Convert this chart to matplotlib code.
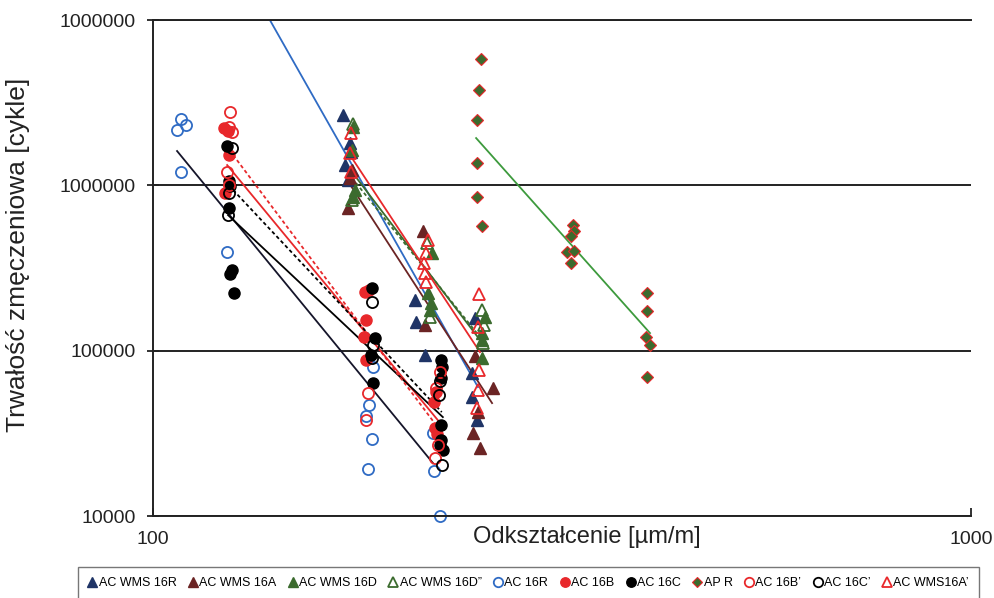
import numpy as np
import matplotlib.pyplot as plt
from matplotlib.ticker import NullLocator

plt.rcParams['font.family'] = ['Liberation Sans', 'DejaVu Sans']

# strain [um/m] vs fatigue life [cycles]
wms16r_x = [170.7, 174.1, 174.6, 171.7, 173.2, 209.0, 209.6, 215.0, 247.5, 245.5, 245.5, 248.9]
wms16r_y = [2.663e6, 1.803e6, 1.590e6, 1.327e6, 1.077e6, 2.024e5, 1.489e5, 94060, 1.575e5, 73210, 52400, 38040]

wms16a_x = [173.2, 174.1, 175.1, 213.8, 215.0, 247.5, 260.3, 249.6, 246.2, 251.0]
wms16a_y = [7.29e5, 1.107e6, 1.238e6, 5.290e5, 1.428e5, 92750, 59380, 42520, 31730, 25740]

wms16d_x = [175.6, 175.1, 176.6, 175.6, 219.3, 216.8, 218.6, 218.0, 254.5, 252.4, 252.4, 252.4]
wms16d_y = [2.253e6, 1.635e6, 9.367e5, 8.497e5, 3.894e5, 2.231e5, 1.941e5, 1.760e5, 1.597e5, 1.278e5, 1.159e5, 90200]

wms16d2_x = [175.6, 175.1, 216.2, 218.0, 252.4, 253.8, 253.1]
wms16d2_y = [2.348e6, 8.150e5, 4.476e5, 1.597e5, 1.760e5, 1.428e5, 1.112e5]

ac16r_x = [108.2, 107.0, 109.7, 108.2, 123.2, 185.7, 183.7, 182.1, 185.2, 183.2, 219.9, 220.5, 224.2]
ac16r_y = [2.518e6, 2.160e6, 2.316e6, 1.204e6, 3.949e5, 79600, 46880, 40210, 29190, 19220, 31730, 18690, 10000]

ac16b_x = [122.1, 123.5, 123.9, 122.5, 181.6, 183.7, 182.1, 181.1, 182.1, 221.7, 220.5, 221.1, 222.3]
ac16b_y = [2.221e6, 2.130e6, 1.525e6, 8.98e5, 2.262e5, 2.326e5, 1.532e5, 1.209e5, 87740, 56170, 48890, 34020, 31290]

ac16c_x = [123.2, 123.9, 124.2, 123.9, 124.9, 124.2, 125.6, 185.2, 186.8, 184.7, 185.7,
           224.8, 225.4, 224.8, 224.8, 224.8, 226.1, 224.2]
ac16c_y = [1.729e6, 1.062e6, 9.90e5, 7.29e5, 3.073e5, 2.906e5, 2.231e5, 2.391e5, 1.192e5, 94060, 63680,
           87740, 79600, 68270, 35470, 28790, 25040, 26850]

apr_x = [251.7, 250.3, 248.9, 248.9, 248.9, 252.4, 326.1, 327.1, 324.3, 320.7, 327.1, 324.3,
         401.7, 401.7, 400.6, 405.1, 401.7]
apr_y = [5.808e6, 3.771e6, 2.483e6, 1.364e6, 8.497e5, 5.673e5, 5.752e5, 5.290e5, 4.934e5, 3.949e5, 4.004e5, 3.388e5,
         2.231e5, 1.736e5, 1.209e5, 1.081e5, 69230]

ac16b2_x = [124.2, 123.9, 124.9, 123.2, 123.9, 183.2, 182.1, 224.2, 221.7, 222.9, 221.1]
ac16b2_y = [2.776e6, 2.253e6, 2.101e6, 1.204e6, 1.004e6, 55400, 38040, 74230, 59380, 26850, 22400]

ac16c2_x = [124.9, 123.9, 123.5, 185.2, 185.7, 185.2, 224.2, 223.6, 225.4]
ac16c2_y = [1.681e6, 8.98e5, 6.612e5, 1.968e5, 1.081e5, 90200, 65480, 53880, 20320]

wms16a2_x = [174.6, 174.1, 174.6, 216.8, 215.6, 214.4, 215.0, 215.6, 250.3, 249.6, 250.3, 249.6, 248.9]
wms16a2_y = [2.072e6, 1.568e6, 1.204e6, 4.668e5, 3.894e5, 3.388e5, 2.947e5, 2.600e5, 2.200e5, 1.389e5, 76290, 57750, 44960]

# regression lines, end points
fit_ac16r = ([107.0, 219.9], [1.613e6, 20890])
fit_ac16b = ([123.2, 222.9], [1.327e6, 38040])
fit_ac16c = ([123.5, 226.1], [6.612e5, 39660])
fit_ac16b2 = ([125.3, 224.2], [1.525e6, 33090])
fit_ac16c2 = ([125.3, 225.4], [9.367e5, 42520])
fit_wms16r = ([133.2, 249.6], [1.446e7, 60230])
fit_wms16a = ([172.7, 259.7], [1.077e6, 48190])
fit_wms16d = ([175.1, 253.8], [1.204e6, 1.081e5])
fit_wms16d2 = ([175.1, 254.5], [1.107e6, 1.112e5])
fit_wms16a2 = ([174.1, 251.0], [1.525e6, 98060])
fit_apr = ([248.3, 405.1], [1.932e6, 1.278e5])

navy = '#1f3466'
brown = '#6b2424'
dgreen = '#3b6b2e'
blue = '#2f6bc4'
red = '#e8282b'

fig = plt.figure(figsize=(9.95, 5.98), dpi=100)
ax = fig.add_axes([0.1538, 0.1371, 0.8221, 0.8294])
ax.set_xscale('log')
ax.set_yscale('log')
ax.set_xlim(100, 1000)
ax.set_ylim(1e4, 1e7)

# trend lines
ax.plot(*fit_ac16r, color='#15152a', lw=1.3)
ax.plot(*fit_ac16b, color=red, lw=1.3)
ax.plot(*fit_ac16c, color='black', lw=1.3)
ax.plot(*fit_ac16b2, color=red, lw=1.3, ls=(0, (2, 1.5)))
ax.plot(*fit_ac16c2, color='black', lw=1.3, ls=(0, (2, 1.5)))
ax.plot(*fit_wms16r, color=blue, lw=1.3)
ax.plot(*fit_wms16a, color=brown, lw=1.3)
ax.plot(*fit_wms16d, color=dgreen, lw=1.3)
ax.plot(*fit_wms16d2, color=dgreen, lw=1.3, ls=(0, (2, 1.5)))
ax.plot(*fit_wms16a2, color=red, lw=1.3)
ax.plot(*fit_apr, color='#3d9a3d', lw=1.3)

ms = 8
kw = dict(ls='none', clip_on=False)
h = []
h += ax.plot(wms16r_x, wms16r_y, marker='^', ms=ms, mfc=navy, mec=navy, label='AC WMS 16R', **kw)
h += ax.plot(wms16a_x, wms16a_y, marker='^', ms=ms, mfc=brown, mec=brown, label='AC WMS 16A', **kw)
h += ax.plot(wms16d_x, wms16d_y, marker='^', ms=ms, mfc=dgreen, mec=dgreen, label='AC WMS 16D', **kw)
h += ax.plot(wms16d2_x, wms16d2_y, marker='^', ms=ms, mfc='none', mec=dgreen, mew=1.3,
             label='AC WMS 16D\u201d', **kw)
h += ax.plot(ac16r_x, ac16r_y, marker='o', ms=ms, mfc='none', mec=blue, mew=1.3, label='AC 16R', **kw)
h += ax.plot(ac16b_x, ac16b_y, marker='o', ms=ms, mfc=red, mec=red, label='AC 16B', **kw)
h += ax.plot(ac16c_x, ac16c_y, marker='o', ms=ms, mfc='black', mec='black', label='AC 16C', **kw)
h += ax.plot(apr_x, apr_y, marker='D', ms=6.5, mfc=dgreen, mec=red, mew=0.8, label='AP R', **kw)
h += ax.plot(ac16b2_x, ac16b2_y, marker='o', ms=ms, mfc='none', mec=red, mew=1.3, label='AC 16B\u2019', **kw)
h += ax.plot(ac16c2_x, ac16c2_y, marker='o', ms=ms, mfc='none', mec='black', mew=1.3, label='AC 16C\u2019', **kw)
h += ax.plot(wms16a2_x, wms16a2_y, marker='^', ms=ms, mfc='none', mec=red, mew=1.3, label='AC WMS16A\u2019', **kw)

# axes styling
ax.set_xticks([100, 1000], ['100', '1000'])
ax.set_yticks([1e4, 1e5, 1e6, 1e7], ['10000', '100000', '1000000', '1000000'])
ax.xaxis.set_minor_locator(NullLocator())
ax.yaxis.set_minor_locator(NullLocator())
ax.tick_params(axis='y', direction='inout', length=9, width=1.3, labelsize=14, pad=8, colors='#222222')
ax.tick_params(axis='x', direction='in', length=6, width=1.3, labelsize=14, pad=11, colors='#222222')
ax.grid(axis='y', which='major', color='#222222', lw=1.4)
ax.set_axisbelow(True)
ax.spines['right'].set_visible(False)
for s in ('left', 'bottom', 'top'):
    ax.spines[s].set_linewidth(1.4)
    ax.spines[s].set_color('#222222')

ax.set_xlabel('Odkształcenie [µm/m]', fontsize=17, color='#222222')
ax.xaxis.set_label_coords(0.53, -0.02)
ax.set_ylabel('Trwałość zmęczeniowa [cykle]', fontsize=19, color='#222222')
ax.yaxis.set_label_coords(-0.15, 0.526)

fig.legend(handles=h, loc='center', bbox_to_anchor=(0.072, 0.0251, 0.918, 0.0), mode='expand',
           ncol=11, fontsize=9, handlelength=0.7, handletextpad=0.15, columnspacing=0.2,
           borderpad=0.8, numpoints=1, frameon=True, fancybox=False, edgecolor='#555555',
           markerscale=0.85)

fig.savefig('out.png', dpi=100)
